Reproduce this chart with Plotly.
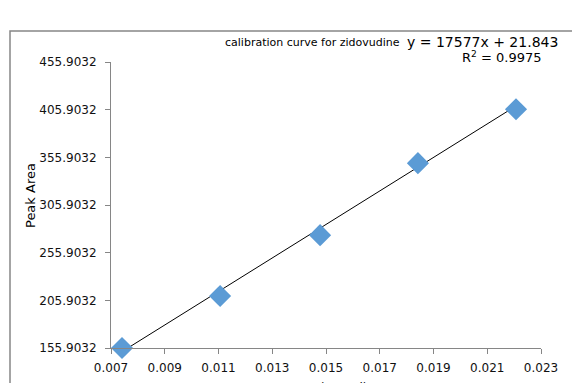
import plotly.graph_objects as go

# Data
conc = [0.00741, 0.01106, 0.01478, 0.01842, 0.02207]
peak_area = [155.9032, 210.4, 274.3, 349.8, 406.4]

# Trendline equation as printed on the chart
slope = 17577
intercept = 21.843
r_squared = 0.9975

y_ticks = [155.9032 + 50 * k for k in range(7)]
x_ticks = [0.007, 0.009, 0.011, 0.013, 0.015, 0.017, 0.019, 0.021, 0.023]

x_line = [min(conc), max(conc)]
y_line = [slope * x + intercept for x in x_line]

W, H = 572, 383
L, R, T, B = 111, 31, 62, 35
PW, PH = W - L - R, H - T - B


def px(x):
    return (x - L) / PW


def py(y):
    return (H - B - y) / PH


fig = go.Figure()
fig.add_trace(go.Scatter(
    x=x_line, y=y_line, mode="lines",
    line=dict(color="#000000", width=1),
    showlegend=False, hoverinfo="skip", cliponaxis=False,
))
fig.add_trace(go.Scatter(
    x=conc, y=peak_area, mode="markers",
    marker=dict(symbol="diamond", size=17, color="#5B9BD5", line=dict(width=0)),
    showlegend=False, cliponaxis=False,
))

axis_common = dict(
    showgrid=False, zeroline=False, showline=True, linecolor="#868686", linewidth=1,
    ticks="outside", ticklen=5, tickcolor="#868686", tickwidth=1,
    tickfont=dict(family="DejaVu Sans", size=12, color="#111111"),
    automargin=False,
)

fig.update_layout(
    width=W, height=H,
    margin=dict(l=L, r=R, t=T, b=B, pad=0, autoexpand=False),
    paper_bgcolor="white", plot_bgcolor="white",
    xaxis=dict(range=[0.007, 0.023], tickvals=x_ticks,
               ticktext=[f"{v:.3f}" for v in x_ticks],
               ticklabelstandoff=4, **axis_common),
    yaxis=dict(range=[155.9032, 455.9032], tickvals=y_ticks,
               ticktext=[f"{v:.4f}" for v in y_ticks],
               ticklabelstandoff=6, **axis_common),
    shapes=[dict(type="rect", xref="paper", yref="paper",
                 x0=px(10), x1=px(W + 20),
                 y0=py(H + 20), y1=py(31),
                 line=dict(color="#868686", width=1.5), fillcolor="rgba(0,0,0,0)",
                 layer="below")],
    annotations=[
        dict(text="calibration curve for zidovudine", xref="paper", yref="paper",
             x=px(223), y=py(43),
             xanchor="left", yanchor="middle", showarrow=False,
             font=dict(family="DejaVu Sans", size=11, color="#000000")),
        dict(text=f"y = {slope}x + {intercept}", xref="paper", yref="paper",
             x=px(405), y=py(42),
             xanchor="left", yanchor="middle", showarrow=False,
             font=dict(family="DejaVu Sans", size=14, color="#000000")),
        dict(text=f"R<sup>2</sup> = {r_squared}", xref="paper", yref="paper",
             x=px(502), y=py(57),
             xanchor="center", yanchor="middle", showarrow=False,
             font=dict(family="DejaVu Sans", size=13, color="#000000")),
        dict(text="Peak Area", xref="paper", yref="paper",
             x=px(30), y=py(196),
             xanchor="center", yanchor="middle", textangle=-90, showarrow=False,
             font=dict(family="DejaVu Sans", size=13, color="#000000")),
        dict(text="Conc (mg/ml)", xref="paper", yref="paper",
             x=0.5, y=py(379),
             xanchor="center", yanchor="top", showarrow=False,
             font=dict(family="DejaVu Sans", size=12, color="#000000")),
    ],
)

fig.write_html("out.html")
